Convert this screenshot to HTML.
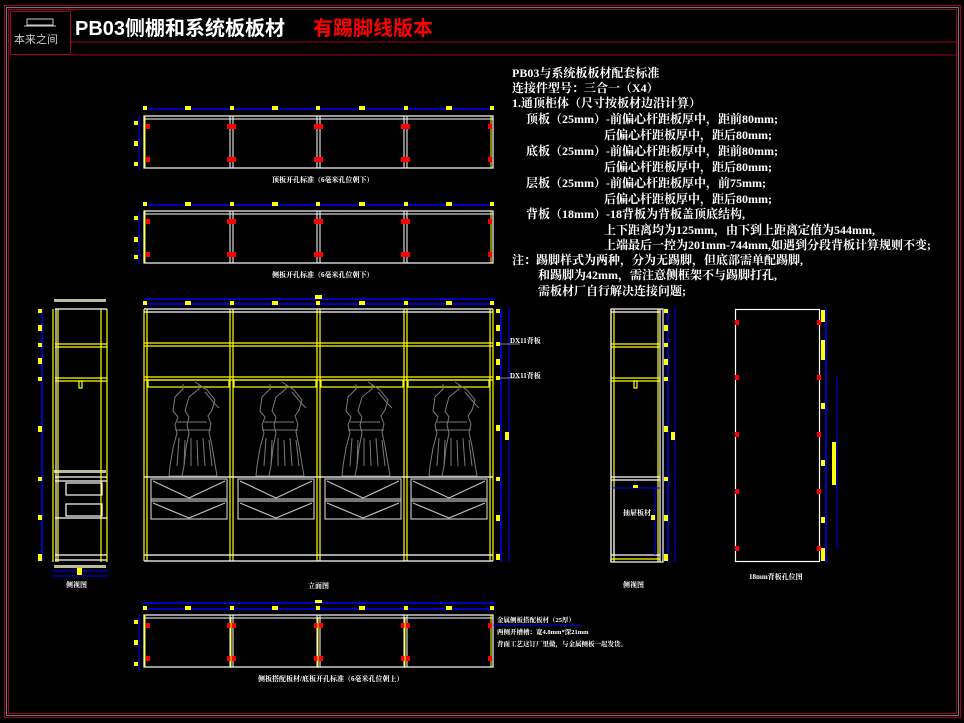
<!DOCTYPE html>
<html><head><meta charset="utf-8"><style>
html,body{margin:0;padding:0;background:#000;}
svg{display:block}
text{font-family:"Liberation Serif","Noto Serif CJK SC","Noto Sans CJK SC",serif;fill:#fff;font-weight:bold}
</style></head><body>
<svg width="964" height="723" viewBox="0 0 964 723" xmlns="http://www.w3.org/2000/svg">
<defs>
<g id="dress" fill="none" stroke="#7a7a7a" stroke-width="1">
<path d="M14 2 l0 5 l-8 8 l-2 14 l5 6 l-3 8 l2 8 l-4 15 l-3 18 l-1 10 l48 0 l-2 -12 l-3 -18 l-3 -14 l2 -8 l-3 -8 l4 -6 l3 -10 l-8 -10 l-12 -8"/>
<path d="M30 2 l0 5 l-10 8 l-4 14 l4 6 l-2 8 l2 8 l-3 15 l-2 18 l-2 10 M36 10 l10 12 l4 4"/>
<path d="M8 40 l30 0 M6 48 l36 0 M10 56 l-2 28 M16 58 l-1 26 M22 56 l0 28 M28 58 l1 26 M34 56 l2 28 M40 58 l3 26"/>
</g>
<g id="drw" fill="none" stroke="#bdbdbd" stroke-width="1.2">
<rect x="0" y="0" width="76" height="40"/>
<line x1="0" y1="20" x2="76" y2="20"/><line x1="0" y1="22" x2="76" y2="22"/>
<path d="M2 2 L38 19 L74 2 M2 24 L38 39 L74 24"/>
</g>
<g id="plan">
<rect x="144" y="0" width="349" height="52" fill="none" stroke="#fff" stroke-width="1.2"/>
<line x1="144" y1="3" x2="493" y2="3" stroke="#fff"/>
<g stroke="#fff" stroke-width="1"><line x1="230" y1="0" x2="230" y2="52"/><line x1="233" y1="0" x2="233" y2="52"/><line x1="317" y1="0" x2="317" y2="52"/><line x1="320" y1="0" x2="320" y2="52"/><line x1="404" y1="0" x2="404" y2="52"/><line x1="407" y1="0" x2="407" y2="52"/></g>
<g stroke="#ff0" stroke-width="1"><line x1="145" y1="0" x2="145" y2="52"/><line x1="491" y1="0" x2="491" y2="52"/></g>
<g fill="#f00"><rect x="146" y="8" width="4" height="5"/><rect x="146" y="41" width="4" height="5"/>
<rect x="227" y="8" width="9" height="5"/><rect x="227" y="41" width="9" height="5"/>
<rect x="314" y="8" width="9" height="5"/><rect x="314" y="41" width="9" height="5"/>
<rect x="401" y="8" width="9" height="5"/><rect x="401" y="41" width="9" height="5"/>
<rect x="488" y="8" width="4" height="5"/><rect x="488" y="41" width="4" height="5"/></g>
</g>
<g id="dimtop">
<line x1="144" y1="0" x2="495" y2="0" stroke="#00f" stroke-width="1.5"/>
<g fill="#ff0"><rect x="143" y="-3" width="4" height="4"/><rect x="185" y="-3" width="6" height="4"/><rect x="230" y="-3" width="4" height="4"/><rect x="272" y="-3" width="6" height="4"/><rect x="316" y="-3" width="4" height="4"/><rect x="359" y="-3" width="6" height="4"/><rect x="404" y="-3" width="4" height="4"/><rect x="446" y="-3" width="6" height="4"/><rect x="490" y="-3" width="4" height="4"/></g>
</g>
</defs>

<!-- frame -->
<g fill="none">
<rect x="4.5" y="5.5" width="956" height="712" stroke="#a0002a"/>
<rect x="6.5" y="7.5" width="952" height="708" stroke="#777"/>
<rect x="8.5" y="9.5" width="948" height="704" stroke="#a0002a"/>
<line x1="71" y1="42" x2="957" y2="42" stroke="#a0002a"/>
<line x1="71" y1="55" x2="957" y2="55" stroke="#a0002a"/>
<rect x="10.5" y="11.5" width="60" height="43" stroke="#a0002a"/>
<rect x="27" y="19" width="26" height="6" stroke="#ccc"/>
<line x1="24" y1="26" x2="56" y2="26" stroke="#ccc"/>
</g>
<text x="14" y="43" style="font-size:11px;fill:#ccc;font-weight:normal;font-family:'Liberation Sans','Noto Sans CJK SC',sans-serif">本来之间</text>
<text x="75" y="35" style="font-size:20px;font-family:'Liberation Sans','Noto Sans CJK SC',sans-serif">PB03侧棚和系统板板材</text>
<text x="313" y="35" style="font-size:20px;fill:#f00;font-family:'Liberation Sans','Noto Sans CJK SC',sans-serif">有踢脚线版本</text>

<!-- notes -->
<g style="font-size:12px">
<text x="512" y="77">PB03与系统板板材配套标准</text>
<text x="512" y="92">连接件型号：三合一（X4）</text>
<text x="512" y="107">1.通顶柜体（尺寸按板材边沿计算）</text>
<text x="526" y="123">顶板（25mm）-前偏心杆距板厚中，距前80mm;</text>
<text x="604" y="139">后偏心杆距板厚中，距后80mm;</text>
<text x="526" y="155">底板（25mm）-前偏心杆距板厚中，距前80mm;</text>
<text x="604" y="171">后偏心杆距板厚中，距后80mm;</text>
<text x="526" y="187">层板（25mm）-前偏心杆距板厚中，前75mm;</text>
<text x="604" y="203">后偏心杆距板厚中，距后80mm;</text>
<text x="526" y="218">背板（18mm）-18背板为背板盖顶底结构,</text>
<text x="604" y="234">上下距离均为125mm，由下到上距离定值为544mm,</text>
<text x="604" y="249">上端最后一控为201mm-744mm,如遇到分段背板计算规则不变;</text>
<text x="512" y="264">注：踢脚样式为两种，分为无踢脚，但底部需单配踢脚,</text>
<text x="538" y="279">和踢脚为42mm，需注意侧框架不与踢脚打孔,</text>
<text x="538" y="295">需板材厂自行解决连接问题;</text>
</g>

<!-- top plans -->
<use href="#dimtop" x="0" y="109"/>
<use href="#plan" x="0" y="116"/>
<line x1="139" y1="116" x2="139" y2="170" stroke="#00f"/>
<g fill="#ff0"><rect x="134" y="121" width="4" height="4"/><rect x="134" y="141" width="4" height="5"/><rect x="134" y="162" width="4" height="4"/></g>
<text x="272" y="182" style="font-size:7px">顶板开孔标准（6毫米孔位朝下）</text>
<use href="#dimtop" x="0" y="205"/>
<use href="#plan" x="0" y="211"/>
<line x1="139" y1="211" x2="139" y2="265" stroke="#00f"/>
<g fill="#ff0"><rect x="134" y="216" width="4" height="4"/><rect x="134" y="237" width="4" height="5"/><rect x="134" y="255" width="4" height="4"/></g>
<text x="272" y="277" style="font-size:7px">侧板开孔标准（6毫米孔位朝下）</text>

<!-- main elevation -->
<line x1="144" y1="299" x2="495" y2="299" stroke="#00f" stroke-width="1.5"/>
<rect x="315" y="295" width="7" height="4" fill="#ff0"/>
<use href="#dimtop" x="0" y="304"/>
<g fill="none" stroke="#ff0" stroke-width="1.2">
<line x1="144" y1="309" x2="144" y2="561"/><line x1="147" y1="309" x2="147" y2="561"/>
<line x1="230" y1="309" x2="230" y2="561"/><line x1="233" y1="309" x2="233" y2="561"/>
<line x1="317" y1="309" x2="317" y2="561"/><line x1="320" y1="309" x2="320" y2="561"/>
<line x1="404" y1="309" x2="404" y2="561"/><line x1="407" y1="309" x2="407" y2="561"/>
<line x1="490" y1="309" x2="490" y2="561"/><line x1="493" y1="309" x2="493" y2="561"/>
<line x1="144" y1="343" x2="493" y2="343"/><line x1="144" y1="346" x2="493" y2="346"/>
<line x1="144" y1="377" x2="493" y2="377"/><line x1="144" y1="380" x2="493" y2="380"/>
<rect x="148" y="380" width="81" height="7"/><rect x="234" y="380" width="82" height="7"/><rect x="321" y="380" width="82" height="7"/><rect x="408" y="380" width="81" height="7"/>
</g>
<g stroke="#fff" stroke-width="1.2" fill="none">
<line x1="144" y1="309" x2="493" y2="309"/><line x1="144" y1="312" x2="493" y2="312"/>
<line x1="144" y1="477" x2="493" y2="477"/>
<line x1="144" y1="555" x2="493" y2="555"/><line x1="144" y1="561" x2="493" y2="561"/>
</g>
<use href="#dress" x="169" y="382"/><use href="#dress" x="256" y="382"/><use href="#dress" x="342" y="382"/><use href="#dress" x="429" y="382"/>
<use href="#drw" x="151" y="479"/><use href="#drw" x="238" y="479"/><use href="#drw" x="325" y="479"/><use href="#drw" x="411" y="479"/>
<line x1="501" y1="309" x2="501" y2="562" stroke="#00f" stroke-width="1.5"/>
<line x1="509" y1="307" x2="509" y2="562" stroke="#00f"/>
<g fill="#ff0"><rect x="496" y="309" width="4" height="4"/><rect x="496" y="325" width="4" height="6"/><rect x="496" y="342" width="4" height="4"/><rect x="496" y="359" width="4" height="6"/><rect x="496" y="376" width="4" height="4"/><rect x="496" y="425" width="4" height="6"/><rect x="505" y="432" width="4" height="8"/><rect x="496" y="477" width="4" height="4"/><rect x="496" y="515" width="4" height="6"/><rect x="496" y="554" width="4" height="6"/></g>
<line x1="500" y1="344" x2="520" y2="344" stroke="#888"/><line x1="500" y1="378" x2="520" y2="378" stroke="#888"/>
<text x="510" y="343" style="font-size:7px">DX11背板</text>
<text x="510" y="378" style="font-size:7px">DX11背板</text>
<text x="308" y="588" style="font-size:7px">立面图</text>

<!-- left side -->
<line x1="42" y1="309" x2="42" y2="562" stroke="#00f" stroke-width="1.5"/>
<g fill="#ff0"><rect x="38" y="309" width="4" height="4"/><rect x="38" y="325" width="4" height="6"/><rect x="38" y="343" width="4" height="4"/><rect x="38" y="358" width="4" height="6"/><rect x="38" y="377" width="4" height="4"/><rect x="38" y="426" width="4" height="6"/><rect x="38" y="477" width="4" height="4"/><rect x="38" y="515" width="4" height="5"/><rect x="38" y="554" width="4" height="7"/>
<rect x="54" y="299" width="52" height="3" fill="#bb9"/><rect x="54" y="470" width="52" height="3" fill="#bb9"/><rect x="54" y="565" width="52" height="3" fill="#bb9"/></g>
<g fill="none" stroke="#ff0" stroke-width="1.2"><line x1="53" y1="309" x2="53" y2="562"/><line x1="58" y1="309" x2="58" y2="562"/><line x1="101" y1="309" x2="101" y2="562"/><line x1="107" y1="309" x2="107" y2="562"/>
<line x1="55" y1="344" x2="107" y2="344"/><line x1="55" y1="347" x2="107" y2="347"/><line x1="55" y1="378" x2="107" y2="378"/><line x1="55" y1="381" x2="107" y2="381"/><rect x="79" y="381" width="3" height="7"/></g>
<g fill="none" stroke="#fff" stroke-width="1.2"><line x1="56" y1="309" x2="56" y2="562"/><line x1="55" y1="309" x2="107" y2="309"/><line x1="55" y1="477" x2="107" y2="477"/><line x1="55" y1="481" x2="107" y2="481"/>
<rect x="66" y="483" width="36" height="12"/><rect x="66" y="504" width="36" height="12"/><line x1="55" y1="518" x2="107" y2="518"/><line x1="55" y1="555" x2="107" y2="555"/><line x1="55" y1="560" x2="107" y2="560"/></g>
<line x1="52" y1="571" x2="108" y2="571" stroke="#00f"/><line x1="52" y1="576" x2="108" y2="576" stroke="#00f"/>
<rect x="77" y="568" width="5" height="7" fill="#ff0"/>
<text x="66" y="587" style="font-size:7px">侧视图</text>

<!-- right side -->
<g fill="none" stroke="#ff0" stroke-width="1.2"><line x1="611" y1="309" x2="611" y2="562"/><line x1="614" y1="309" x2="614" y2="562"/><line x1="658" y1="309" x2="658" y2="562"/>
<line x1="611" y1="344" x2="660" y2="344"/><line x1="611" y1="347" x2="660" y2="347"/><line x1="611" y1="378" x2="660" y2="378"/><line x1="611" y1="381" x2="660" y2="381"/><rect x="634" y="381" width="3" height="7"/><line x1="611" y1="559" x2="660" y2="559"/></g>
<g fill="none" stroke="#fff" stroke-width="1.2"><rect x="611" y="309" width="52" height="253"/><line x1="660" y1="309" x2="660" y2="562"/><line x1="611" y1="312" x2="660" y2="312"/><line x1="611" y1="477" x2="660" y2="477"/><line x1="611" y1="480" x2="660" y2="480"/><line x1="614" y1="488" x2="614" y2="555"/><line x1="611" y1="555" x2="660" y2="555"/></g>
<line x1="668" y1="309" x2="668" y2="562" stroke="#00f" stroke-width="1.5"/><line x1="675" y1="307" x2="675" y2="562" stroke="#00f"/>
<line x1="612" y1="488" x2="660" y2="488" stroke="#00f"/><line x1="655" y1="488" x2="655" y2="555" stroke="#00f"/>
<g fill="#ff0"><rect x="664" y="309" width="4" height="4"/><rect x="664" y="325" width="4" height="6"/><rect x="664" y="343" width="4" height="4"/><rect x="664" y="359" width="4" height="6"/><rect x="664" y="377" width="4" height="4"/><rect x="664" y="426" width="4" height="6"/><rect x="671" y="432" width="4" height="8"/><rect x="664" y="477" width="4" height="4"/><rect x="664" y="515" width="4" height="6"/><rect x="664" y="554" width="4" height="7"/><rect x="633" y="485" width="5" height="3"/><rect x="651" y="515" width="4" height="5"/></g>
<text x="623" y="515" style="font-size:7px">抽屉板材</text>
<text x="623" y="587" style="font-size:7px">侧视图</text>

<!-- back panel -->
<rect x="735.5" y="309.5" width="84" height="252" fill="none" stroke="#fff" stroke-width="1.2"/>
<g fill="#f00"><rect x="735" y="320" width="4" height="5"/><rect x="735" y="375" width="4" height="5"/><rect x="735" y="432" width="4" height="5"/><rect x="735" y="489" width="4" height="5"/><rect x="735" y="546" width="4" height="5"/>
<rect x="817" y="320" width="4" height="5"/><rect x="817" y="375" width="4" height="5"/><rect x="817" y="432" width="4" height="5"/><rect x="817" y="489" width="4" height="5"/><rect x="817" y="546" width="4" height="5"/></g>
<line x1="826" y1="309" x2="826" y2="562" stroke="#00f" stroke-width="1.5"/><line x1="837" y1="376" x2="837" y2="549" stroke="#00f"/>
<g fill="#ff0"><rect x="821" y="310" width="4" height="12"/><rect x="821" y="340" width="4" height="20"/><rect x="821" y="403" width="4" height="6"/><rect x="821" y="460" width="4" height="6"/><rect x="821" y="517" width="4" height="6"/><rect x="821" y="548" width="4" height="13"/><rect x="832" y="442" width="4" height="43"/></g>
<text x="749" y="579" style="font-size:7px">18mm背板孔位图</text>

<!-- bottom plan -->
<line x1="143" y1="603" x2="495" y2="603" stroke="#00f" stroke-width="1.5"/>
<rect x="315" y="600" width="7" height="3" fill="#ff0"/>
<use href="#dimtop" x="0" y="609"/>
<use href="#plan" x="0" y="615"/>
<g stroke="#ff0"><line x1="231" y1="617" x2="231" y2="668"/><line x1="318" y1="617" x2="318" y2="668"/><line x1="405" y1="617" x2="405" y2="668"/></g>
<line x1="139" y1="615" x2="139" y2="670" stroke="#00f"/>
<g fill="#ff0"><rect x="134" y="620" width="4" height="4"/><rect x="134" y="640" width="4" height="5"/><rect x="134" y="662" width="4" height="4"/></g>
<g style="font-size:6.5px"><text x="497" y="622">金属侧板搭配板材（25厚）</text><text x="497" y="634">两侧开槽槽：宽4.8mm*深21mm</text><text x="497" y="646">背面工艺这订厂里做，与金属侧板一起发货。</text></g>
<line x1="493" y1="625" x2="580" y2="625" stroke="#00f"/>
<text x="258" y="681" style="font-size:7px">侧板搭配板材/底板开孔标准（6毫米孔位朝上）</text>
</svg>
</body></html>
